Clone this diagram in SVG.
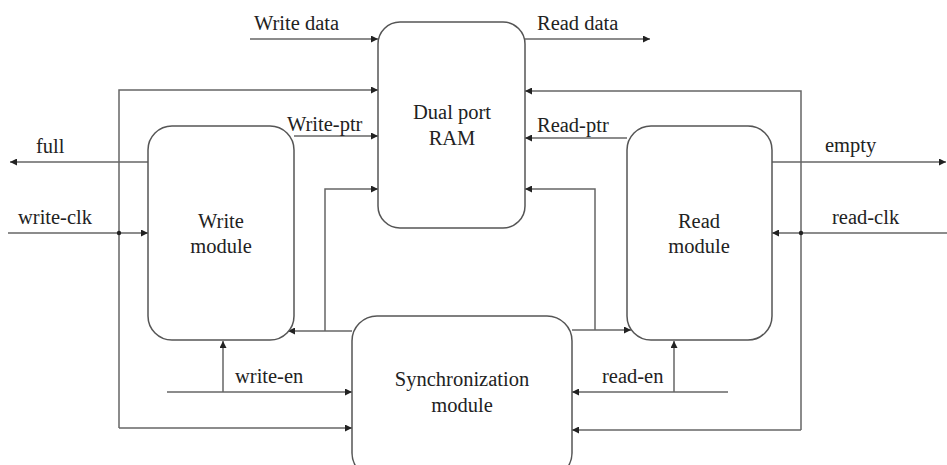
<svg xmlns="http://www.w3.org/2000/svg" width="947" height="465" viewBox="0 0 947 465">
  <style>
    .box { fill: #ffffff; stroke: #555555; stroke-width: 1.5; }
    .wire { fill: none; stroke: #666666; stroke-width: 1.5; }
    .arr { marker-end: url(#head); }
    .t { font-family: 'Liberation Serif', 'DejaVu Serif', serif; font-size: 20.5px; fill: #222222; }
    .c { text-anchor: middle; }
  </style>
  <defs>
    <marker id="head" viewBox="0 0 10 10" refX="10" refY="5" markerWidth="8" markerHeight="7" markerUnits="userSpaceOnUse" orient="auto">
      <path d="M0,0 L10,5 L0,10 Z" fill="#222222"/>
    </marker>
  </defs>

  <rect width="947" height="465" fill="#ffffff"/>

  <!-- connectors -->
  <g id="connectors">
    <!-- data paths -->
    <path class="wire arr" d="M250,39 H378"/>
    <path class="wire arr" d="M525,39 H650"/>
    <!-- write clock distribution -->
    <path class="wire arr" d="M119,428 V90 H378"/>
    <path class="wire arr" d="M119,428 H352"/>
    <path class="wire arr" d="M8,233 H148"/>
    <circle cx="119" cy="233" r="2.2" fill="#222222"/>
    <!-- full flag -->
    <path class="wire arr" d="M148,162 H10"/>
    <!-- write pointer -->
    <path class="wire arr" d="M294,136 H378"/>
    <!-- sync outputs, write side -->
    <path class="wire arr" d="M352,331 H288"/>
    <path class="wire arr" d="M325,331 V189 H378"/>
    <!-- write enable -->
    <path class="wire arr" d="M167,392 H352"/>
    <path class="wire arr" d="M223,392 V341"/>
    <!-- read clock distribution -->
    <path class="wire arr" d="M801,430 V91 H525"/>
    <path class="wire arr" d="M801,430 H572"/>
    <path class="wire arr" d="M947,233 H772"/>
    <circle cx="801" cy="233" r="2.2" fill="#222222"/>
    <!-- empty flag -->
    <path class="wire arr" d="M772,162 H946"/>
    <!-- read pointer -->
    <path class="wire arr" d="M627,138 H525"/>
    <!-- sync outputs, read side -->
    <path class="wire arr" d="M572,330 H631"/>
    <path class="wire arr" d="M595,330 V189 H525"/>
    <!-- read enable -->
    <path class="wire arr" d="M728,392 H572"/>
    <path class="wire arr" d="M674,392 V341"/>
  </g>

  <!-- signal labels -->
  <g id="labels" class="t">
    <text x="254" y="30">Write data</text>
    <text x="537" y="30">Read data</text>
    <text x="287" y="131">Write-ptr</text>
    <text x="537" y="132">Read-ptr</text>
    <text x="36" y="153">full</text>
    <text x="18" y="224">write-clk</text>
    <text x="825" y="152">empty</text>
    <text x="832" y="224">read-clk</text>
    <text x="235" y="383">write-en</text>
    <text x="602" y="383">read-en</text>
  </g>

  <g id="ram">
    <rect class="box" x="378" y="22" width="147" height="206" rx="22"/>
    <text class="t c" x="452" y="119">Dual port</text>
    <text class="t c" x="452" y="145">RAM</text>
  </g>

  <g id="write-module">
    <rect class="box" x="148" y="126" width="146" height="214" rx="24"/>
    <text class="t c" x="221" y="228">Write</text>
    <text class="t c" x="221" y="253">module</text>
  </g>

  <g id="read-module">
    <rect class="box" x="627" y="126" width="145" height="214" rx="24"/>
    <text class="t c" x="699" y="228">Read</text>
    <text class="t c" x="699" y="253">module</text>
  </g>

  <g id="sync-module">
    <rect class="box" x="352" y="316" width="220" height="162" rx="25"/>
    <text class="t c" x="462" y="386">Synchronization</text>
    <text class="t c" x="462" y="412">module</text>
  </g>
</svg>
